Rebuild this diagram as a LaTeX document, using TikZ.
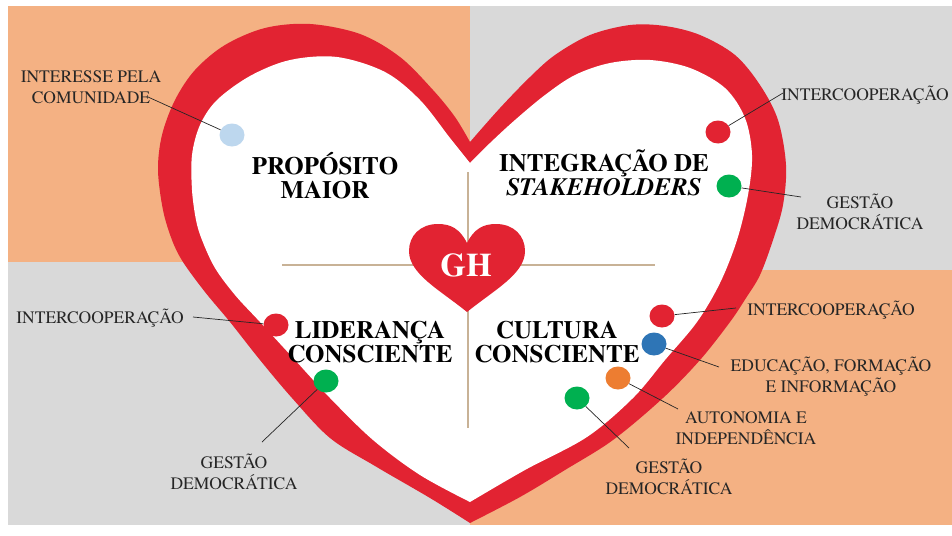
\documentclass[tikz,border=0pt]{standalone}
\usepackage{fontspec}
\IfFontExistsTF{texgyretermes-regular.otf}{%
  \setmainfont{texgyretermes}[Extension=.otf, UprightFont=*-regular, BoldFont=*-bold, ItalicFont=*-italic, BoldItalicFont=*-bolditalic]%
}{%
  \setmainfont{Liberation Serif}%
}
\usetikzlibrary{shapes.geometric}
\definecolor{bgorange}{RGB}{244,177,131}
\definecolor{bggray}{RGB}{217,217,217}
\definecolor{heartred}{RGB}{226,35,50}
\definecolor{tanline}{RGB}{200,178,150}
\definecolor{dotblue}{RGB}{46,117,182}
\definecolor{dotlight}{RGB}{189,215,238}
\definecolor{dotgreen}{RGB}{0,176,80}
\definecolor{dotorange}{RGB}{237,125,49}
\tikzset{
  lbl/.style={font=\fontsize{17.5}{21}\selectfont, align=center, inner sep=0pt, text=black!85},
  ttl/.style={font=\bfseries\fontsize{25}{24}\selectfont, align=center, inner sep=0pt},
  dot/.style={ellipse, minimum width=25pt, minimum height=23pt, inner sep=0pt, fill=#1},
  conn/.style={draw=black!85, line width=0.7pt},
  divider/.style={draw=tanline, line width=1.2pt}
}
\begin{document}
\begin{tikzpicture}[x=1pt,y=-1pt]
\useasboundingbox (0,0) rectangle (952,535);
% background quadrants
\fill[bgorange] (8,6) rectangle (470,262);
\fill[bggray] (470,6) rectangle (952,270);
\fill[bggray] (8,262) rectangle (470,525);
\fill[bgorange] (470,270) rectangle (952,525);
% big heart outer
\fill[heartred] plot[smooth, tension=0.55] coordinates {(470,142) (455,117) (433,90) (400,57) (360,34) (310,24) (265,28) (225,45) (195,70) (175,100) (162,135) (158,170) (163,210) (172,240) (183,262) (205,292) (230,322) (260,360) (292,398) (330,438) (375,466) (430,498) (470,523)}
  -- plot[smooth, tension=0.55] coordinates {(470,523) (520,497) (565,470) (613,440) (663,398) (700,360) (730,322) (746,298) (760,275) (773,240) (783,205) (786,165) (778,120) (760,85) (735,55) (700,35) (665,26) (630,25) (590,35) (555,55) (530,77) (500,108) (470,142)} -- cycle;
% big heart inner
\fill[white] plot[smooth, tension=0.55] coordinates {(470,163) (450,138) (420,100) (385,72) (337,57) (290,60) (250,76) (217,100) (200,125) (192,155) (192,190) (196,220) (202,240) (215,268) (235,295) (260,322) (295,360) (330,398) (373,440) (420,475) (470,502)}
  -- plot[smooth, tension=0.55] coordinates {(470,502) (525,470) (587,437) (633,398) (665,360) (697,322) (720,283) (737,240) (748,195) (752,155) (745,118) (725,88) (690,68) (650,60) (610,63) (575,75) (545,95) (515,120) (490,143) (470,163)} -- cycle;
% dividers
\coordinate (hl) at (282,265);
\coordinate (hr) at (655,265);
\coordinate (vt) at (468,172);
\coordinate (vb) at (468,428);
\draw[divider] (hl) -- (hr);
\draw[divider] (vt) -- (vb);
% small GH heart
\fill[heartred] (467,243) .. controls (460,229) and (451,224) .. (438,224)
  .. controls (420,224) and (409,236) .. (409,251)
  .. controls (409,274) and (440,290) .. (467,312)
  .. controls (494,290) and (525,274) .. (525,251)
  .. controls (525,236) and (514,224) .. (496,224)
  .. controls (483,224) and (474,229) .. (467,243) -- cycle;
\node[font=\bfseries\fontsize{33}{33}\selectfont, text=white, inner sep=0pt] (gh) at (466,265) {GH};
% titles
\node[ttl] (t1) at (325,176) {PROPÓSITO\\MAIOR};
\node[ttl] (t2) at (604,173) {INTEGRAÇÃO DE\\\textit{STAKEHOLDERS}};
\node[ttl] (t3) at (370,342) {LIDERANÇA\\CONSCIENTE};
\node[ttl] (t4) at (557,342) {CULTURA\\CONSCIENTE};
% dots
\node[dot=dotlight] (lb) at (232,135) {};
\node[dot=heartred] (r1) at (718,132) {};
\node[dot=dotgreen] (g1) at (729,186) {};
\node[dot=heartred] (r2) at (276,325) {};
\node[dot=dotgreen] (g2) at (326,381) {};
\node[dot=heartred] (r3) at (662,316) {};
\node[dot=dotblue] (b3) at (654,344) {};
\node[dot=dotorange] (o3) at (618,378) {};
\node[dot=dotgreen] (g3) at (577,398) {};
% labels
\node[lbl] (l1) at (91,87) {INTERESSE PELA\\COMUNIDADE};
\node[lbl] (l2) at (865,95) {INTERCOOPERAÇÃO};
\node[lbl] (l3) at (860,212) {GESTÃO\\DEMOCRÁTICA};
\node[lbl] (l4) at (100,318) {INTERCOOPERAÇÃO};
\node[lbl] (l5) at (234,472) {GESTÃO\\DEMOCRÁTICA};
\node[lbl] (l6) at (831,310) {INTERCOOPERAÇÃO};
\node[lbl] (l7) at (831,377) {EDUCAÇÃO, FORMAÇÃO\\E INFORMAÇÃO};
\node[lbl] (l8) at (746,428) {AUTONOMIA E\\INDEPENDÊNCIA};
\node[lbl] (l9) at (669,477) {GESTÃO\\DEMOCRÁTICA};
% connector ends
\coordinate (c1) at (148,97);
\coordinate (c2) at (783,93);
\coordinate (c3) at (801,197);
\coordinate (c4) at (193,317);
\coordinate (c5) at (262,442);
\coordinate (c6) at (736,308);
\coordinate (c7) at (719,367);
\coordinate (c8) at (678,409);
\coordinate (c9) at (629,448);
\draw[conn] (c1) -- (lb);
\draw[conn] (c2) -- (r1);
\draw[conn] (g1) -- (c3);
\draw[conn] (c4) -- (r2);
\draw[conn] (c5) -- (g2);
\draw[conn] (c6) -- (r3);
\draw[conn] (c7) -- (b3);
\draw[conn] (c8) -- (o3);
\draw[conn] (c9) -- (g3);
\end{tikzpicture}
\end{document}
